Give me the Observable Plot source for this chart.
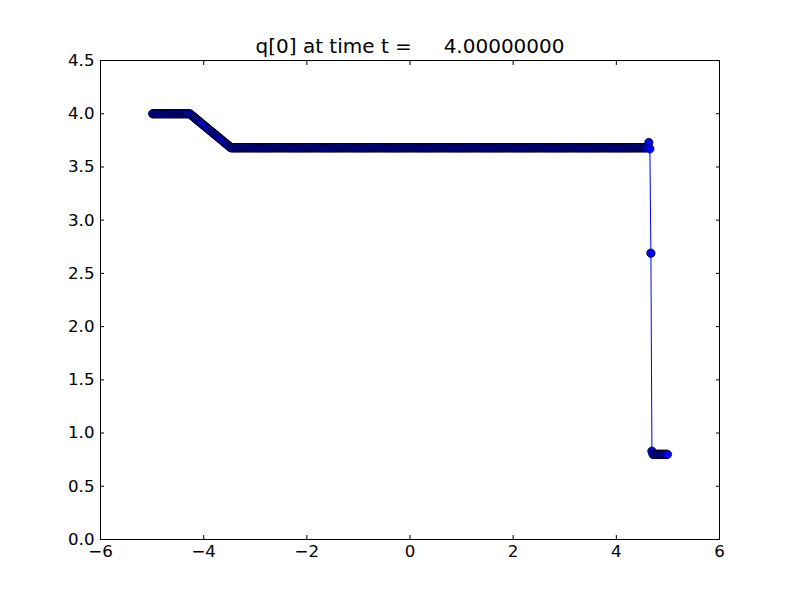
<!DOCTYPE html>
<html>
<head>
<meta charset="utf-8">
<script src="https://cdn.jsdelivr.net/npm/d3@7"></script>
<script src="https://cdn.jsdelivr.net/npm/@observablehq/plot@0.6"></script>
<style>
  html, body { margin: 0; padding: 0; background: #fff; }
  svg text { white-space: pre; }
</style>
</head>
<body>
<div id="chart"></div>
<script>
// ---- data ----
const titleText = "q[0] at time t =     4.00000000";
const gridStart = -4.99;   // first cell centre
const gridStep = 0.02;     // cell width
// q values along the grid, as runs of constant values and literal stretches
const highRunValue = 4.0, highRunCount = 37;
const rampValues = [3.992, 3.984, 3.976, 3.968, 3.960, 3.952, 3.944, 3.936, 3.928, 3.920,
                    3.912, 3.904, 3.896, 3.888, 3.880, 3.872, 3.864, 3.856, 3.848, 3.840,
                    3.832, 3.824, 3.816, 3.808, 3.800, 3.792, 3.784, 3.776, 3.768, 3.760,
                    3.752, 3.744, 3.736, 3.728, 3.720, 3.712, 3.704, 3.696, 3.688, 3.680];
const plateauValue = 3.68, plateauCount = 403;
const jumpValues = [3.69, 3.73, 3.67, 2.69, 0.83];
const lowRunValue = 0.80, lowRunCount = 15;
const xTicks = [-6, -4, -2, 0, 2, 4, 6];
const yTicks = [0, 0.5, 1, 1.5, 2, 2.5, 3, 3.5, 4, 4.5];

const qValues = [
  ...Array(highRunCount).fill(highRunValue),
  ...rampValues,
  ...Array(plateauCount).fill(plateauValue),
  ...jumpValues,
  ...Array(lowRunCount).fill(lowRunValue)
];
const data = qValues.map((q, i) => ({x: +(gridStart + i * gridStep).toFixed(4), q}));

const font = "DejaVu Sans, sans-serif";
const chart = Plot.plot({
  width: 800,
  height: 600,
  marginLeft: 100,
  marginRight: 81,
  marginTop: 60,
  marginBottom: 61,
  style: {fontFamily: font, fontSize: "16.67px", color: "black", background: "white", overflow: "visible"},
  x: {domain: [-6, 6], ticks: xTicks},
  y: {domain: [0, 4.5], ticks: yTicks},
  marks: [
    Plot.line(data, {x: "x", y: "q", stroke: "#0000ff", strokeWidth: 1}),
    Plot.dot(data, {x: "x", y: "q", r: 4.2, fill: "#0000ff", stroke: "black", strokeWidth: 0.7}),
    Plot.frame({stroke: "black", strokeWidth: 1}),
    Plot.axisX({anchor: "bottom", ticks: xTicks, tickSize: -4, tickPadding: 10, tickFormat: d3.format("d"), label: null, fontSize: "16.67px"}),
    Plot.axisX({anchor: "top", ticks: xTicks, tickSize: -4, tickFormat: () => "", label: null}),
    Plot.axisY({anchor: "left", ticks: yTicks, tickSize: -4, tickPadding: 10, tickFormat: d3.format(".1f"), label: null, fontSize: "16.67px"}),
    Plot.axisY({anchor: "right", ticks: yTicks, tickSize: -4, tickFormat: () => "", label: null}),
    Plot.text([titleText], {text: d => d, frameAnchor: "top", lineAnchor: "bottom", dy: -8, fontSize: 20, fill: "black"})
  ]
});
document.getElementById("chart").appendChild(chart);
</script>
</body>
</html>
